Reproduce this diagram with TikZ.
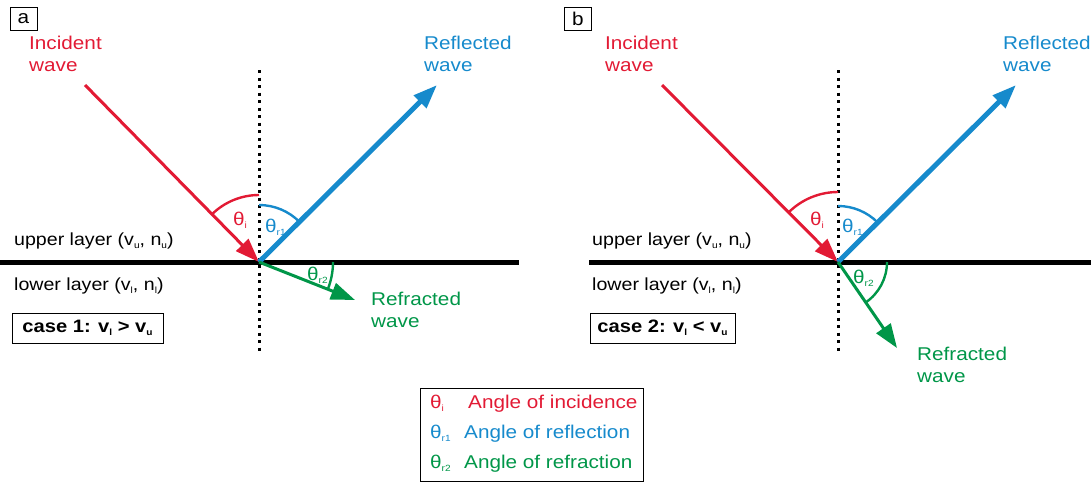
\documentclass[tikz,border=0pt]{standalone}
\usepackage{fontspec}
\setmainfont[FakeStretch=1.12]{Liberation Sans}
\usetikzlibrary{positioning, arrows.meta}
\definecolor{waveRed}{RGB}{226,26,52}
\definecolor{waveBlue}{RGB}{22,138,204}
\definecolor{waveGreen}{RGB}{0,150,72}
\newcommand{\lsub}[1]{\raisebox{-3pt}{\fontsize{9}{9}\selectfont #1}}
\newcommand{\legsym}[2][34pt]{\makebox[#1][l]{#2}}

\begin{document}
\begin{tikzpicture}[
    x=1pt, y=-1pt,
    font=\fontsize{18.5}{22}\selectfont,
    txt/.style={inner sep=0pt, align=left},
    layer/.style={txt, anchor=base west, font=\fontsize{17.5}{20}\selectfont},
    tag/.style={draw, thin, inner sep=0pt, minimum width=27pt, minimum height=23pt},
    casebox/.style={draw, thin, inner sep=0pt, minimum width=151pt, minimum height=30pt,
                    font=\fontsize{18}{20}\selectfont\bfseries},
    normal/.style={line width=3pt, dash pattern=on 3pt off 4.5pt},
    iface/.style={line width=5pt},
    ray/.style={-{Triangle[length=24pt, width=17pt]}},
    ang/.style={line width=2.4pt},
  ]
    \useasboundingbox (0,0) rectangle (1091,483);

    % panel a
    \node[tag] (tagA) at (23.5,19) {a};
    \coordinate (Oa) at (259,262);
    \coordinate (nTopA) at (259,70);
    \coordinate (nBotA) at (259,352);
    \coordinate (ifLA) at (0,262);
    \coordinate (ifRA) at (519,262);
    \coordinate (incA) at (85,85);
    \coordinate (refA) at (437,85);
    \coordinate (frA) at (355,300);
    \draw[normal] (nTopA) -- (nBotA);
    \draw[iface] (ifLA) -- (ifRA);
    \draw[ray, waveRed, line width=3pt] (incA) -- (Oa);
    \draw[ray, waveBlue, line width=5pt] (Oa) -- (refA);
    \draw[ray, waveGreen, line width=3pt] (Oa) -- (frA);
    % y runs downwards, so angles are mirrored
    \draw[ang, waveRed] (Oa) ++(0,-67) arc[start angle=-90, end angle=-135, radius=67];
    \draw[ang, waveBlue] (Oa) ++(0,-57) arc[start angle=-90, end angle=-45, radius=57];
    \draw[ang, waveGreen] (Oa) ++(74,0) arc[start angle=0, end angle=21.6, radius=74];
    \node[txt, waveRed, anchor=base west] (thIA) at (233,225) {θ\lsub{i}};
    \node[txt, waveBlue, anchor=base west] (thR1A) at (265,232) {θ\lsub{r1}};
    \node[txt, waveGreen, anchor=base west] (thR2A) at (307,280) {θ\lsub{r2}};
    \node[txt, waveRed, anchor=north west] (incTxtA) at (29,36) {Incident\\wave};
    \node[txt, waveBlue, anchor=north west] (refTxtA) at (424,36) {Reflected\\wave};
    \node[txt, waveGreen, anchor=north west] (frTxtA) at (371,292) {Refracted\\wave};
    \node[layer] (upA) at (14,245) {upper layer (v\lsub{u}, n\lsub{u})};
    \node[layer] (loA) at (14,290) {lower layer (v\lsub{l}, n\lsub{l})};
    \node[casebox] (caseA) at (87.5,328) {case 1: v\lsub{l} > v\lsub{u}};

    % panel b
    \node[tag] (tagB) at (578,18.5) {b};
    \coordinate (Ob) at (838,262);
    \coordinate (nTopB) at (838,70);
    \coordinate (nBotB) at (838,352);
    \coordinate (ifLB) at (589,262);
    \coordinate (ifRB) at (1091,262);
    \coordinate (incB) at (662,85);
    \coordinate (refB) at (1016,85);
    \coordinate (frB) at (897,348);
    \draw[normal] (nTopB) -- (nBotB);
    \draw[iface] (ifLB) -- (ifRB);
    \draw[ray, waveRed, line width=3pt] (incB) -- (Ob);
    \draw[ray, waveBlue, line width=5pt] (Ob) -- (refB);
    \draw[ray, waveGreen, line width=3pt] (Ob) -- (frB);
    \draw[ang, waveRed] (Ob) ++(0,-70) arc[start angle=-90, end angle=-135, radius=70];
    \draw[ang, waveBlue] (Ob) ++(0,-56) arc[start angle=-90, end angle=-45, radius=56];
    \draw[ang, waveGreen] (Ob) ++(49,0) arc[start angle=0, end angle=55.5, radius=49];
    \node[txt, waveRed, anchor=base west] (thIB) at (810,225) {θ\lsub{i}};
    \node[txt, waveBlue, anchor=base west] (thR1B) at (842,232) {θ\lsub{r1}};
    \node[txt, waveGreen, anchor=base west] (thR2B) at (853,283) {θ\lsub{r2}};
    \node[txt, waveRed, anchor=north west] (incTxtB) at (605,36) {Incident\\wave};
    \node[txt, waveBlue, anchor=north west] (refTxtB) at (1003,36) {Reflected\\wave};
    \node[txt, waveGreen, anchor=north west] (frTxtB) at (917,347) {Refracted\\wave};
    \node[layer] (upB) at (592,245) {upper layer (v\lsub{u}, n\lsub{u})};
    \node[layer] (loB) at (592,290) {lower layer (v\lsub{l}, n\lsub{l})};
    \node[casebox, minimum width=145pt] (caseB) at (662.5,328) {case 2: v\lsub{l} < v\lsub{u}};

    % legend (base of the node is its last line)
    \node[draw, thin, anchor=north west, inner sep=0pt, minimum width=223pt, minimum height=93pt]
      (legend) at (420,388) {};
    \node[txt, anchor=base west, font=\fontsize{18.5}{30}\selectfont] (legTxt) at (430,468)
      {\color{waveRed}\legsym[38pt]{θ\lsub{i}}Angle of incidence\\
       \color{waveBlue}\legsym{θ\lsub{r1}}Angle of reflection\\
       \color{waveGreen}\legsym{θ\lsub{r2}}Angle of refraction};
  \end{tikzpicture}
\end{document}
